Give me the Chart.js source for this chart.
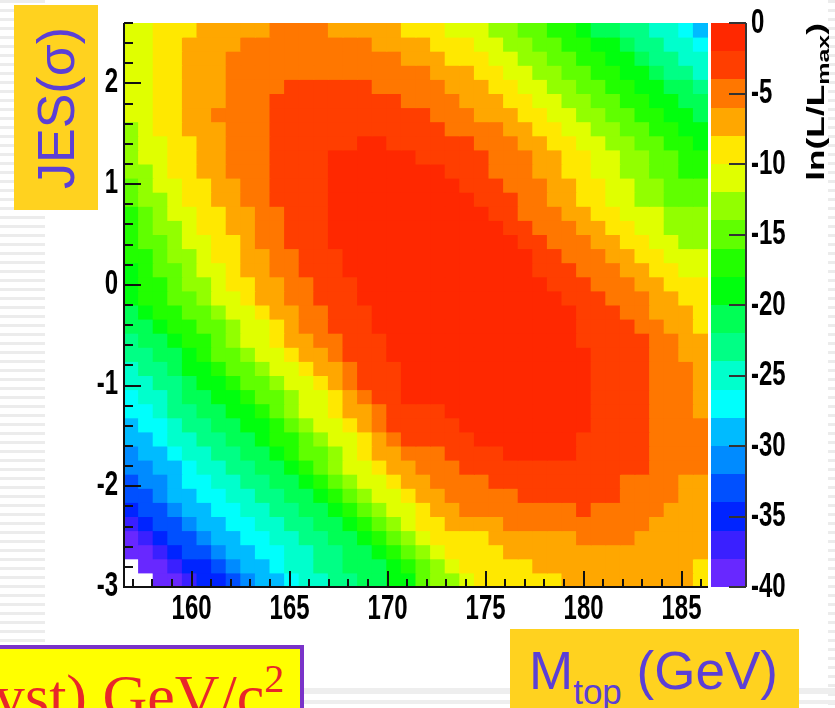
<!DOCTYPE html>
<html>
<head>
<meta charset="utf-8">
<script src="https://cdn.jsdelivr.net/npm/chart.js@4.4.0/dist/chart.umd.min.js"></script>
<style>
  html, body { margin: 0; padding: 0; background: #fff; }
  #page { position: relative; width: 835px; height: 708px; overflow: hidden; background: #fff; }
  .stripes { position: absolute; background: repeating-linear-gradient(to bottom, #ececec 0 3px, transparent 3px 9px); }
  .band { position: absolute; background: #eeeeee; }
  #chart { position: absolute; left: 0; top: 0; }
  #jesBox { position: absolute; left: 14px; top: 5px; width: 84px; height: 205px; background: #ffd21f; }
  #jesBox span { position: absolute; left: 50%; top: 50%; transform: translate(-50%, -50%) rotate(-90deg);
    font: 52px "Liberation Sans", Arial, sans-serif; color: #5b3fd6; white-space: nowrap; line-height: 52px; }
  #mBox { position: absolute; left: 510px; top: 629px; width: 289px; height: 90px; background: #ffd21f;
    font: 53px "Liberation Sans", Arial, sans-serif; color: #5b3fd6; line-height: 53px; white-space: nowrap;
    box-sizing: border-box; padding: 15px 0 0 19px; }
  #mBox sub { font-size: 35px; vertical-align: -15px; line-height: 0; }
  #ystBox { position: absolute; left: -6px; top: 645px; width: 310px; height: 80px; background: #ffff00;
    border-top: 4px solid #7a33c9; border-right: 4px solid #7a33c9;
    font: 62px "Liberation Serif", "Times New Roman", serif; color: #e8262a; line-height: 62px; white-space: nowrap;
    box-sizing: border-box; padding: 16px 0 0 0; }
  #ystBox sup { font-size: 40px; vertical-align: 25px; line-height: 0; }
</style>
</head>
<body>
<div id="page">
  <div class="stripes" style="left:0;top:0;width:45px;height:708px"></div>
  <div class="stripes" style="left:828px;top:0;width:7px;height:708px"></div>
  <div class="band" style="left:300px;top:688px;width:535px;height:6px"></div>
  <div class="band" style="left:300px;top:700px;width:535px;height:4px"></div>
  <canvas id="chart" width="835" height="708"></canvas>
  <div id="jesBox"><span>JES(σ)</span></div>
  <div id="mBox">M<sub>top</sub> (GeV)</div>
  <div id="ystBox">yst) GeV/c<sup>2</sup></div>
</div>
<script>
// histogram limits (axis units)
const mtopRange = [156.55, 186.35];   // GeV
const jesRange = [-3.0, 2.6];         // sigma
const zRange = [-40, 0];              // ln(L/Lmax)
const contourStep = 2;

// tick values
const mtopTicks = [160, 165, 170, 175, 180, 185];
const jesTicks = [-3, -2, -1, 0, 1, 2];
const zTicks = [0, -5, -10, -15, -20, -25, -30, -35, -40];

// contour colours, lowest level (-40) first
const contourColors = [
	'rgb(104,40,255)', 'rgb(58,32,255)', 'rgb(0,36,255)', 'rgb(0,80,255)',
	'rgb(0,139,255)', 'rgb(0,187,255)', 'rgb(0,255,252)', 'rgb(0,255,204)',
	'rgb(0,255,133)', 'rgb(0,255,85)', 'rgb(0,255,14)', 'rgb(34,255,0)',
	'rgb(96,255,0)', 'rgb(146,255,0)', 'rgb(224,255,0)', 'rgb(255,232,0)',
	'rgb(255,167,0)', 'rgb(255,119,0)', 'rgb(255,62,0)', 'rgb(255,40,0)'
];

// ln(L/Lmax), one string per JES bin (top row first),
// one character per Mtop bin: '0' = 0..-2, '1' = -2..-4, ... 'j' = -38..-40,
// '.' = below -40 (empty bin)
const lnLRows = [
	'55 444 33333 2222 33333 444 555 66 77 88 9 aa bb cc d e',
	'55 44 3333 222222222 3333 444 55 66 77 88 99 a bb cc d',
	'55 44 333 222222222222 333 444 55 66 77 88 99 a bb cc',
	'55 44 333 22222222222222 333 44 55 66 77 88 99 a bb c',
	'55 44 333 2222 111111 22222 333 44 55 66 77 88 99 aa b',
	'55 44 333 222 111111111 2222 333 44 55 66 77 88 99 aa',
	'55 44 33 2222 11111111111 222 333 44 55 66 77 88 99 a',
	'6 5 44 333 222 111111111111 2222 33 44 55 66 77 88 99',
	'6 55 44 33 222 111111 00 111111 222 33 44 55 66 77 88 9',
	'6 55 44 33 222 1111 000000 11111 222 33 44 55 66 77 88',
	'66 5 44 33 222 1111 000000 00 111 222 33 44 55 66 77 88',
	'7 6 55 44 33 22 1111 000000 000 111 222 33 44 55 66 777',
	'7 66 5 44 33 22 1111 000000 0000 111 22 33 44 55 66 777',
	'8 7 6 55 44 33 22 111 000000 00000 11 222 33 44 555 666',
	'8 7 66 5 44 33 22 111 000000 000000 11 222 33 44 55 666',
	'8 77 6 55 44 3 22 111 000000 0000000 11 222 33 44 55 66',
	'88 7 66 5 44 33 22 111 00000 00000000 11 222 33 44 555',
	'9 8 77 6 55 4 33 22 111 00000 00000000 111 222 33 44 55',
	'9 88 7 66 5 44 33 22 111 0000 000000000 111 222 33 444',
	'9 88 77 6 55 4 33 22 111 0000 0000000000 111 222 33 44',
	'a 9 88 77 6 55 4 33 22 111 000 00000000000 111 22 333 4',
	'aa 9 88 77 6 55 4 3 22 111 000 00000000000 1111 22 33 4',
	'b aa 9 88 7 6 55 4 33 22 111 00 00000000000 11111 22 33',
	'bb aa 9 8 77 6 55 4 33 2 111 00 000000000000 1111 22 33',
	'c bb a 99 8 77 6 55 4 33 2 111 0 000000000000 1111 222 3',
	'cc bb a 99 8 77 6 55 4 3 2 111 0 000000000000 1111 222 3',
	'd cc b aa 99 8 77 6 55 4 3 2 11 0 000000000000 1111 222 3',
	'dd c bb aa 99 8 7 6 55 4 33 2 11 11 0000000000 1111 222 3',
	'e dd c bb aa 99 8 7 6 55 4 3 2 11 111 000000000 1111 2222',
	'ee d cc bb aa 9 88 7 6 55 4 3 2 1 1111 0000000 11111 2222',
	'f ee d cc bb aa 9 8 77 6 5 4 33 2 22 1111 00000 11111 2222',
	'ff ee d cc bb aa 9 8 7 6 55 4 33 222 1111111111111 2222',
	'g ff e dd cc bb aa 9 8 7 6 55 4 3 3 2222 111111111 2222 33',
	'gg f ee dd cc bb aa 9 8 7 6 55 4 33 22222 1111111 2222 33',
	'h gg f ee dd cc bb aa 9 8 7 6 55 4 33 22222222 1 22222 333',
	'i h gg f ee dd cc bb aa 9 8 7 6 5 44 3333 2222222222 3333',
	'j i h gg f ee dd cc bb aa 9 8 7 6 5 4444 333333 2222 33333',
	'jj i h gg f ee dd cc bb aa 9 8 7 6 5 4444 33333333333333',
	'. jj i hh g f ee d cc bb aaa 9 8 7 6 5 44444 33333333333 4',
	'.. jj i hh g f ee d cc bb aa 99 7 66 5 444444 333333333 4'
];

const bandCodes = '0123456789abcdefghij';
const lnL = lnLRows.map(function (s, r) {
	var cells = s.replace(/\s+/g, '').split('');
	if (cells.length !== 40) {
		console.warn('row ' + r + ' has ' + cells.length + ' bins');
	}
	return cells.map(function (ch) {
		return ch === '.' ? null : -(2 * bandCodes.indexOf(ch) + 1);
	});
});

const nx = 40, ny = lnL.length;
const dx = (mtopRange[1] - mtopRange[0]) / nx;
const dy = (jesRange[1] - jesRange[0]) / ny;

function colorFor(v) {
	var i = Math.floor((v - zRange[0]) / contourStep);
	i = Math.max(0, Math.min(contourColors.length - 1, i));
	return contourColors[i];
}

// one floating-bar dataset per JES bin
const datasets = lnL.map(function (row, r) {
	var hi = jesRange[1] - r * dy,
		lo = hi - dy;
	return {
		data: row.map(function (v, c) {
			return { x: mtopRange[0] + (c + 0.5) * dx, y: v === null ? null : [lo, hi] };
		}),
		backgroundColor: row.map(function (v) {
			return v === null ? 'rgba(0,0,0,0)' : colorFor(v);
		})
	};
});

const labelFont = 'bold 24px "Liberation Sans", Arial, sans-serif';
const textStretch = 1.47; // the pasted plot is stretched vertically

function tallText(ctx, text, px, py, align) {
	ctx.save();
	ctx.translate(px, py);
	ctx.scale(1, textStretch);
	ctx.textAlign = align;
	ctx.textBaseline = 'middle';
	ctx.fillText(text, 0, 0);
	ctx.restore();
}

// ROOT-like frame: inward ticks, labels, colour palette and its axis
const rootFrame = {
	id: 'rootFrame',
	afterDatasetsDraw: function (chart) {
		var ctx = chart.ctx,
			a = chart.chartArea,
			x = chart.scales.x,
			y = chart.scales.y,
			z = chart.scales.z,
			v, p, i;

		ctx.save();
		ctx.strokeStyle = '#111';
		ctx.lineWidth = 2;
		ctx.beginPath();
		ctx.moveTo(a.left, a.top);
		ctx.lineTo(a.left, a.bottom);
		ctx.lineTo(a.right, a.bottom);
		ctx.stroke();

		// x ticks (every GeV, long at multiples of 5)
		ctx.beginPath();
		for (v = Math.ceil(mtopRange[0]); v <= mtopRange[1]; v++) {
			p = Math.round(x.getPixelForValue(v));
			ctx.moveTo(p, a.bottom);
			ctx.lineTo(p, a.bottom - (v % 5 === 0 ? 16 : 8));
		}
		// y ticks (every 0.2, long at integers)
		for (i = Math.ceil(jesRange[0] * 5); i <= jesRange[1] * 5; i++) {
			p = Math.round(y.getPixelForValue(i / 5));
			ctx.moveTo(a.left, p);
			ctx.lineTo(a.left + (i % 5 === 0 ? 17 : 9), p);
		}
		ctx.stroke();

		// colour palette
		var barLeft = a.right + 3,
			barRight = a.right + 38;
		contourColors.forEach(function (col, k) {
			var t = Math.round(z.getPixelForValue(zRange[0] + (k + 1) * contourStep)),
				b = Math.round(z.getPixelForValue(zRange[0] + k * contourStep));
			ctx.fillStyle = col;
			ctx.fillRect(barLeft, t, barRight - barLeft, b - t);
		});
		ctx.strokeStyle = '#333';
		ctx.beginPath();
		ctx.moveTo(barRight, a.top);
		ctx.lineTo(barRight, a.bottom);
		zTicks.forEach(function (t) {
			p = Math.round(z.getPixelForValue(t));
			ctx.moveTo(barRight, p);
			ctx.lineTo(barRight - 17, p);
		});
		ctx.stroke();

		// labels
		ctx.fillStyle = '#000';
		ctx.font = labelFont;
		mtopTicks.forEach(function (t) {
			tallText(ctx, String(t), x.getPixelForValue(t), a.bottom + 22, 'center');
		});
		jesTicks.forEach(function (t) {
			tallText(ctx, String(t), a.left - 6, y.getPixelForValue(t) - 1, 'right');
		});
		zTicks.forEach(function (t) {
			tallText(ctx, String(t), barRight + 5, z.getPixelForValue(t), 'left');
		});

		// palette title, rotated and right-aligned to the top
		ctx.save();
		ctx.translate(824, a.top);
		ctx.rotate(-Math.PI / 2);
		ctx.scale(textStretch, 1);
		ctx.textBaseline = 'alphabetic';
		ctx.textAlign = 'left';
		ctx.font = labelFont;
		var main = 'ln(L/L', close = ')';
		var subFont = 'bold 17px "Liberation Sans", Arial, sans-serif';
		var w1 = ctx.measureText(main).width,
			w3 = ctx.measureText(close).width;
		ctx.font = subFont;
		var w2 = ctx.measureText('max').width;
		var start = -(w1 + w2 + w3);
		ctx.font = labelFont;
		ctx.fillText(main, start, 0);
		ctx.font = subFont;
		ctx.fillText('max', start + w1, 5);
		ctx.font = labelFont;
		ctx.fillText(close, start + w1 + w2, 0);
		ctx.restore();

		ctx.restore();
	}
};

new Chart(document.getElementById('chart'), {
	type: 'bar',
	data: { datasets: datasets },
	options: {
		responsive: false,
		animation: false,
		devicePixelRatio: 1,
		layout: { padding: { left: 124, top: 23, right: 127, bottom: 121 } },
		plugins: { legend: { display: false }, tooltip: { enabled: false } },
		datasets: {
			bar: {
				grouped: false,
				barPercentage: 1,
				categoryPercentage: 1,
				borderWidth: 0,
				inflateAmount: 0.5
			}
		},
		scales: {
			x: { type: 'linear', min: mtopRange[0], max: mtopRange[1], display: false, offset: false },
			y: { type: 'linear', min: jesRange[0], max: jesRange[1], display: false },
			z: { type: 'linear', axis: 'y', position: 'right', min: zRange[0], max: zRange[1], display: false }
		}
	},
	plugins: [rootFrame]
});
</script>
</body>
</html>
